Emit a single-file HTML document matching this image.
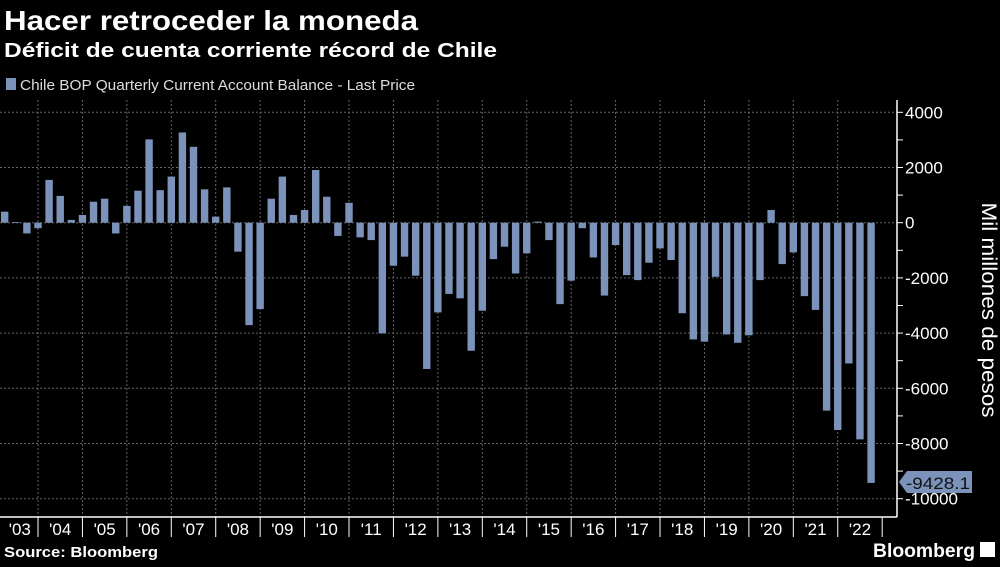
<!DOCTYPE html>
<html><head><meta charset="utf-8"><style>
body{margin:0;background:#000;width:1000px;height:562px;overflow:hidden;font-family:"Liberation Sans",sans-serif;color:#fff}
</style></head><body>
<svg width="1000" height="562" xmlns="http://www.w3.org/2000/svg" font-family="Liberation Sans, sans-serif">
<rect width="1000" height="562" fill="#000"/>
<text x="4" y="30" font-size="28" font-weight="bold" fill="#fff" textLength="414" lengthAdjust="spacingAndGlyphs">Hacer retroceder la moneda</text>
<text x="4" y="57" font-size="20" font-weight="bold" fill="#fff" textLength="493" lengthAdjust="spacingAndGlyphs">Déficit de cuenta corriente récord de Chile</text>
<rect x="6" y="78" width="10" height="12" fill="#7b93bb"/>
<text x="20" y="90" font-size="15" fill="#ddd" textLength="395" lengthAdjust="spacingAndGlyphs">Chile BOP Quarterly Current Account Balance - Last Price</text>
<g id="grid" stroke="#666" stroke-width="1" stroke-dasharray="2,2"></g>
<g id="bars" fill="#7b93bb"></g>
<line x1="0" y1="517" x2="897" y2="517" stroke="#fff" stroke-width="1.5"/>
<line x1="897" y1="100" x2="897" y2="517" stroke="#fff" stroke-width="1.5"/>
<g id="ax" fill="#fff" font-size="17"></g>
<text transform="translate(982,310) rotate(90)" text-anchor="middle" font-size="21" fill="#fff" textLength="215" lengthAdjust="spacingAndGlyphs">Mil millones de pesos</text>
<polygon points="899,482 907,471 972,471 972,493 907,493" fill="#7b93bb"/>
<text x="906" y="489" font-size="17" fill="#111" textLength="64" lengthAdjust="spacingAndGlyphs">-9428.1</text>
<text x="4" y="557" font-size="15" font-weight="bold" fill="#fff" textLength="154" lengthAdjust="spacingAndGlyphs">Source: Bloomberg</text>
<text x="873" y="557" font-size="19" font-weight="bold" fill="#fff" textLength="102" lengthAdjust="spacingAndGlyphs">Bloomberg</text>
<rect x="980" y="542" width="15" height="15" fill="#fff"/>
</svg>
<script>
var v=[400,20,-390,-200,1550,970,100,280,760,870,-390,610,1160,3020,1180,1670,3270,2750,1210,220,1280,-1050,-3710,-3130,870,1670,280,460,1910,940,-480,720,-530,-630,-4010,-1560,-1230,-1920,-5300,-3250,-2580,-2740,-4640,-3190,-1320,-870,-1840,-1110,40,-630,-2950,-2100,-200,-1260,-2640,-810,-1900,-2080,-1450,-930,-1350,-3280,-4230,-4310,-1960,-4050,-4350,-4080,-2080,460,-1500,-1075,-2660,-3160,-6810,-7510,-5100,-7850,-9428.1];
var NS="http://www.w3.org/2000/svg";
function el(t,a,p){var e=document.createElementNS(NS,t);for(var k in a)e.setAttribute(k,a[k]);document.getElementById(p).appendChild(e);return e;}
var z=222.7,s=0.0276;
function Y(val){return z-val*s;}
for(var g=4000;g>=-10000;g-=2000){el('line',{x1:0,x2:897,y1:Y(g),y2:Y(g)},'grid');
 var t=el('text',{x:905,y:Y(g)+6},'ax');t.textContent=g;}
for(var m=3000;m>=-9000;m-=2000){el('line',{x1:897,x2:903,y1:Y(m),y2:Y(m),stroke:'#fff'},'ax');}
for(var g=4000;g>=-10000;g-=2000){el('line',{x1:897,x2:903,y1:Y(g),y2:Y(g),stroke:'#fff'},'ax');}
var yw=44.43;
for(var y=2003;y<=2022;y++){var b=38+(y-2004)*yw;
 if(y>2003){el('line',{x1:b,x2:b,y1:100,y2:517},'grid');}
 el('line',{x1:b+yw,x2:b+yw,y1:517,y2:537,stroke:'#fff'},'ax');
 var t=el('text',{x:b+yw/2+ (y==2003?4:0),y:535,'text-anchor':'middle'},'ax');t.textContent="'"+String(y).slice(2);}
for(var i=0;i<v.length;i++){var c=38+(i-3)*yw/4;var y1=Y(Math.max(v[i],0)),y2=Y(Math.min(v[i],0));
 el('rect',{x:c-3.7,y:y1,width:7.4,height:Math.max(y2-y1,0.8)},'bars');}
</script>
</body></html>
